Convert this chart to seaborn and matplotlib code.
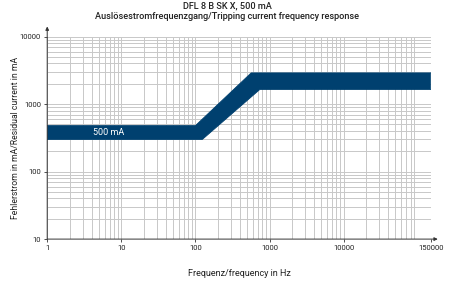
import numpy as np
import matplotlib
matplotlib.use("Agg")
import matplotlib.pyplot as plt
import seaborn as sns
import pandas as pd

# Data
freq_upper = [1, 100, 565, 150000]
current_upper = [480, 480, 2900, 2900]
freq_lower = [1, 124, 740, 150000]
current_lower = [300, 300, 1650, 1650]
band_label = "500 mA"
label_pos = (4.1, 375)
x_ticks = [1, 10, 100, 1000, 10000, 150000]
x_ticklabels = ["1", "10", "100", "1000", "10000", "150000"]
y_ticks = [10, 100, 1000, 10000]
y_ticklabels = ["10", "100", "1000", "10000"]
title1 = "DFL 8 B SK X, 500 mA"
title2 = "Auslösestromfrequenzgang/Tripping current frequency response"
xlabel = "Frequenz/frequency in Hz"
ylabel = "Fehlerstrom in mA/Residual current in mA"

band_color = "#00406f"
grid_color = "#c8c8c8"

sns.set_theme(style="white")
plt.rcParams['font.family'] = ['Roboto', 'DejaVu Sans']

fig = plt.figure(figsize=(4.54, 2.86), dpi=100)
ax = fig.add_axes([0.104, 0.164, 0.845, 0.708])

ax.set_xscale("log")
ax.set_yscale("log")

poly_x = np.concatenate([freq_upper, freq_lower[::-1]])
poly_y = np.concatenate([current_upper, current_lower[::-1]])
ax.fill(poly_x, poly_y, color=band_color, lw=0, zorder=3)
df_u = pd.DataFrame({"f": freq_upper, "i": current_upper})
df_l = pd.DataFrame({"f": freq_lower, "i": current_lower})
sns.lineplot(data=df_u, x="f", y="i", ax=ax, color=band_color, lw=0.6, zorder=3, sort=False)
sns.lineplot(data=df_l, x="f", y="i", ax=ax, color=band_color, lw=0.6, zorder=3, sort=False)

ax.text(label_pos[0], label_pos[1], band_label, color="white", fontsize=6.5,
        ha="left", va="center", zorder=4)

ax.set_xlim(1, 150000)
ax.set_ylim(10, 10000)

ax.set_xticks(x_ticks)
ax.set_xticklabels(x_ticklabels)
ax.set_yticks(y_ticks)
ax.set_yticklabels(y_ticklabels)
ax.xaxis.set_minor_locator(matplotlib.ticker.LogLocator(base=10, subs=np.arange(2, 10), numticks=20))
ax.yaxis.set_minor_locator(matplotlib.ticker.LogLocator(base=10, subs=np.arange(2, 10), numticks=20))
ax.xaxis.set_minor_formatter(matplotlib.ticker.NullFormatter())
ax.yaxis.set_minor_formatter(matplotlib.ticker.NullFormatter())

ax.grid(True, which="both", color=grid_color, lw=0.7, zorder=0)
ax.set_axisbelow(True)
ax.tick_params(axis="both", which="major", labelsize=5.5, length=2.5, width=0.6,
               color="#333333", pad=2, labelcolor="#222222", bottom=True, left=True)
ax.tick_params(axis="both", which="minor", length=0)

for s in ["top", "right", "left", "bottom"]:
    ax.spines[s].set_visible(False)

# axis lines with arrows
ax.annotate("", xy=(0, 1.05), xytext=(0, 0), xycoords="axes fraction",
            arrowprops=dict(arrowstyle="-|>", color="#333333", lw=0.7,
                            mutation_scale=5, shrinkA=0, shrinkB=0))
ax.annotate("", xy=(1.018, 0), xytext=(0, 0), xycoords="axes fraction",
            arrowprops=dict(arrowstyle="-|>", color="#333333", lw=0.7,
                            mutation_scale=5, shrinkA=0, shrinkB=0))

fig.text(0.5, 0.980, title1, ha="center", va="center", fontsize=6.6,
         fontweight="medium", color="#222222")
fig.text(0.5, 0.944, title2, ha="center", va="center", fontsize=6.6,
         fontweight="medium", color="#222222")
ax.set_xlabel(xlabel, fontsize=6.5, color="#222222")
ax.set_ylabel(ylabel, fontsize=6.2, color="#222222")
ax.xaxis.set_label_coords(0.5, -0.15)
ax.yaxis.set_label_coords(-0.071, 0.5)

fig.savefig("out.png", dpi=100)
